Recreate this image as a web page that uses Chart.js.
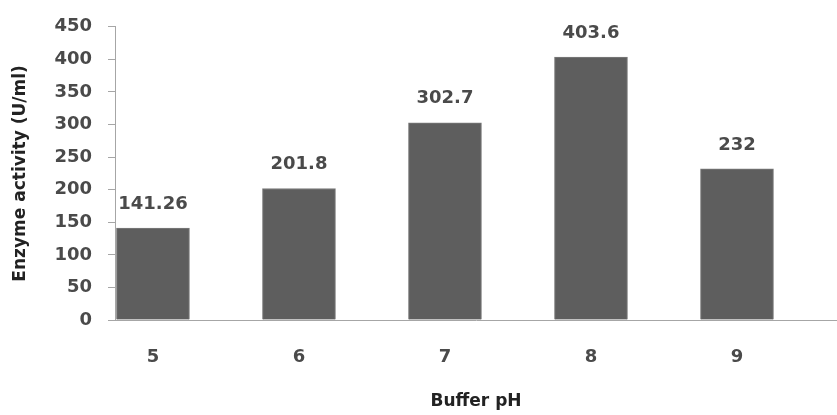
<!DOCTYPE html>
<html>
<head>
<meta charset="utf-8">
<script src="https://cdn.jsdelivr.net/npm/chart.js@4/dist/chart.umd.min.js"></script>
<style>
  html, body { margin: 0; padding: 0; background: #ffffff; }
  #wrap { width: 837px; height: 415px; position: relative; }
</style>
</head>
<body>
<div id="wrap"><canvas id="chart" width="837" height="415"></canvas></div>
<script>
// Buffer pH values and measured enzyme activity (U/ml)
const phValues = [5, 6, 7, 8, 9];
const activity = [141.26, 201.8, 302.7, 403.6, 232];
const activityLabels = ['141.26', '201.8', '302.7', '403.6', '232'];
const yTicks = [0, 50, 100, 150, 200, 250, 300, 350, 400, 450];

const textGray = '#4a4a4a';
const axisGray = '#a6a6a6';

// Writes each bar's value just above it
const valueLabels = {
  id: 'valueLabels',
  afterDatasetsDraw(chart) {
    const ctx = chart.ctx;
    const meta = chart.getDatasetMeta(0);
    ctx.save();
    ctx.font = 'bold 18px "DejaVu Sans"';
    ctx.fillStyle = textGray;
    ctx.textAlign = 'center';
    ctx.textBaseline = 'middle';
    meta.data.forEach((bar, i) => {
      ctx.fillText(activityLabels[i], bar.x, bar.y - 24);
    });
    ctx.restore();
  }
};

new Chart(document.getElementById('chart'), {
  type: 'bar',
  data: {
    datasets: [{
      data: phValues.map((p, i) => ({ x: p, y: activity[i] })),
      backgroundColor: '#5e5e5e',
      borderColor: '#7c7c7c',
      borderWidth: 1,
      barThickness: 73
    }]
  },
  options: {
    responsive: false,
    animation: false,
    layout: { padding: { top: 21, right: 0, bottom: 0, left: 0 } },
    plugins: { legend: { display: false }, tooltip: { enabled: false } },
    scales: {
      x: {
        type: 'linear',
        offset: false,
        min: 4.74,
        max: 9.685,
        afterFit: s => { s.height = 95; },
        grid: { display: true, drawOnChartArea: false, drawTicks: false },
        border: { display: true, color: axisGray, width: 1 },
        ticks: {
          includeBounds: false,
          stepSize: 1,
          padding: 27,
          color: textGray,
          font: { family: 'DejaVu Sans', size: 18, weight: 'bold' },
          callback: v => (phValues.includes(v) ? String(v) : '')
        },
        title: {
          display: true,
          text: 'Buffer pH',
          color: '#222222',
          font: { family: 'DejaVu Sans', size: 17, weight: 'bold' },
          padding: { top: 0, bottom: 3 }
        }
      },
      y: {
        min: 0,
        max: 450,
        afterFit: s => { s.width = 115; },
        afterBuildTicks: s => { s.ticks = yTicks.map(v => ({ value: v })); },
        grid: { display: true, drawOnChartArea: false, drawTicks: true, tickLength: 7, color: axisGray },
        border: { display: true, color: axisGray, width: 1 },
        ticks: {
          padding: 16,
          color: textGray,
          font: { family: 'DejaVu Sans', size: 18, weight: 'bold' }
        },
        title: {
          display: true,
          text: 'Enzyme activity (U/ml)',
          color: '#222222',
          font: { family: 'DejaVu Sans', size: 17, weight: 'bold' },
          padding: { top: 10, bottom: 0 }
        }
      }
    }
  },
  plugins: [valueLabels]
});
</script>
</body>
</html>
